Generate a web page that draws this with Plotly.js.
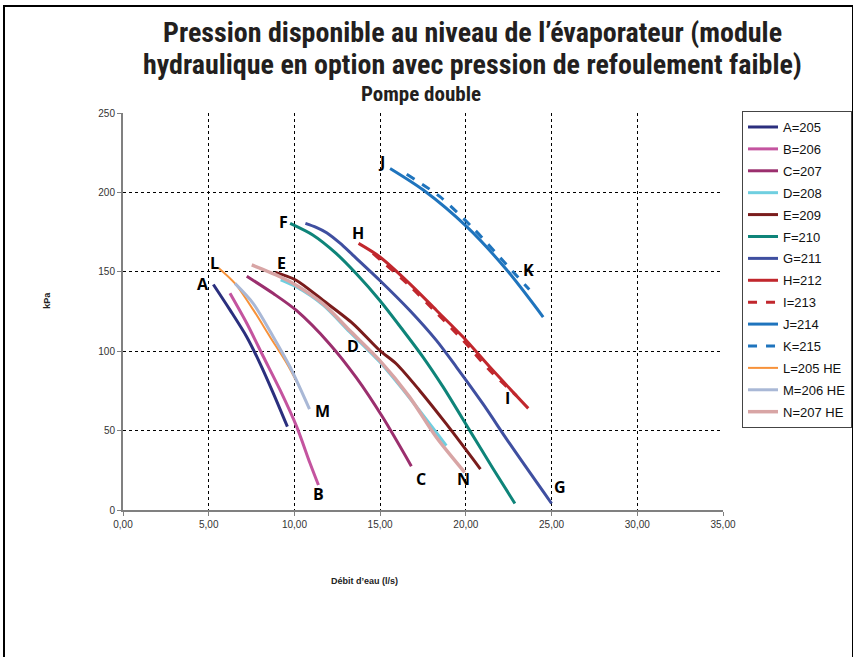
<!DOCTYPE html>
<html>
<head>
<meta charset="utf-8">
<script src="https://cdn.plot.ly/plotly-3.0.1.min.js"></script>
<style>
  html, body { margin: 0; padding: 0; background: #fff; }
  #wrap { position: relative; width: 853px; height: 657px; }
  #frame { position: absolute; left: 3px; top: 5px; width: 847px; height: 660px; border-left: 2px solid #000; border-top: 2px solid #000; border-right: 2px solid #000; pointer-events: none; }
  #chart { position: absolute; left: 0; top: 0; width: 853px; height: 657px; }
</style>
</head>
<body>
<div id="wrap">
  <div id="chart"></div>
  <div id="frame"></div>
</div>
<script>
// Series data (x = débit l/s, y = kPa)
const names = ["A=205","B=206","C=207","D=208","E=209","F=210","G=211","H=212","I=213","J=214","K=215","L=205 HE","M=206 HE","N=207 HE"];

const A_x = [5.27, 6.24, 7.22, 7.99, 8.77, 9.59];
const A_y = [142, 126, 109, 92.4, 73.5, 52.5];
const B_x = [6.24, 7.22, 8.19, 9.16, 10.13, 10.91, 11.4];
const B_y = [136.5, 117.6, 96.5, 75.6, 52.5, 29.4, 15.7];
const C_x = [7.22, 8.77, 10.1, 12.05, 13.6, 15.16, 16.82];
const C_y = [147.2, 136.3, 125.8, 104.6, 83.5, 58.2, 27.6];
const D_x = [9.2, 10.1, 11.66, 13.21, 14.97, 16.72, 18.86];
const D_y = [145, 140.6, 129.2, 112.3, 93.3, 70.5, 40.5];
const E_x = [8.89, 10.1, 11.66, 13.41, 14.97, 15.94, 17.3, 18.86, 20.85];
const E_y = [149.6, 144.7, 132.1, 117.4, 100.5, 92.1, 75.3, 54.2, 25.8];
const F_x = [9.75, 11.07, 12.43, 13.6, 14.97, 16.33, 17.5, 18.67, 20.23, 21.59, 22.86];
const F_y = [180.5, 173.2, 161.6, 148.9, 132.1, 113.2, 96.3, 77.5, 50, 26, 4.1];
const G_x = [10.64, 11.27, 11.88, 12.66, 13.41, 14.97, 16.72, 18.28, 19.45, 21.0, 22.57, 25.0];
const G_y = [180.5, 178, 174.6, 168, 160.5, 144.7, 125.8, 106.8, 90, 66.8, 41.6, 4.1];
const H_x = [13.74, 14.97, 16.72, 18.28, 19.84, 21.4, 23.64];
const H_y = [167.9, 159.5, 142.6, 125.8, 108.9, 90, 64];
const I_x = [14.58, 16.72, 18.28, 19.84, 21.4, 22.95];
const I_y = [161.6, 141.2, 124.2, 106.8, 87.8, 72];
const J_x = [15.58, 17.52, 20.05, 22.39, 24.51];
const J_y = [215.1, 201.5, 178.4, 151.1, 121.5];
const K_x = [16.55, 18.49, 20.44, 22.39, 23.7];
const K_y = [211.4, 197.3, 177.3, 154.3, 138.8];
const L_x = [5.56, 6.53, 7.6, 8.58, 9.55, 10.13];
const L_y = [152.6, 142.7, 126, 109, 92.4, 80.8];
const M_x = [6.53, 7.6, 8.77, 9.74, 10.88];
const M_y = [142.7, 130, 109, 90.2, 63.5];
const N_x = [7.51, 9.16, 10.1, 11.66, 13.21, 14.97, 16.72, 18.28, 19.93];
const N_y = [154.3, 146.9, 141.6, 130, 113.2, 94.2, 71.1, 45.8, 23.7];

// Curve labels
const labelText = ["A","B","C","D","E","F","G","H","I","J","K","L","M","N"];
const labelX = [4.67, 11.38, 17.38, 13.42, 9.22, 9.39, 25.49, 13.71, 22.4, 15.05, 23.63, 5.31, 11.61, 19.84];
const labelY = [142.3, 10.1, 19.5, 103.3, 155.5, 181.4, 14.5, 174.6, 70.5, 219.1, 151.1, 155.5, 62.3, 19.5];

const xTicks = [0, 5, 10, 15, 20, 25, 30, 35];
const yTicks = [0, 50, 100, 150, 200, 250];

const colors = ["#2B2F7E","#C4549F","#9B2F6E","#6FCFE0","#7A1C1C","#0E8479","#3F4FA0","#C1272D","#C1272D","#1F74BD","#1F74BD","#F7923A","#A9B8D6","#D8A5A5"];
const dashes = ["solid","solid","solid","solid","solid","solid","solid","solid","dash","solid","dash","solid","solid","solid"];
const widths = [3,3,3,3,3,3,3,3,3,3,3,2,3,3.5];

const xs = [A_x,B_x,C_x,D_x,E_x,F_x,G_x,H_x,I_x,J_x,K_x,L_x,M_x,N_x];
const ys = [A_y,B_y,C_y,D_y,E_y,F_y,G_y,H_y,I_y,J_y,K_y,L_y,M_y,N_y];

const traces = names.map((n, i) => ({
  type: "scatter", mode: "lines", name: n, legendgroup: "g" + i,
  x: xs[i], y: ys[i],
  line: { color: colors[i], width: widths[i], dash: dashes[i], shape: "spline", smoothing: 0.8 }
}));

const labelFont = { family: "Open Sans, Liberation Sans, sans-serif", size: 16, color: "#000" };
const annotations = labelText.map((t, i) => ({
  x: labelX[i], y: labelY[i], xref: "x", yref: "y", text: "<b>" + t + "</b>",
  showarrow: false, font: labelFont, xanchor: "center", yanchor: "middle"
}));

const titleFam = "Liberation Sans Narrow, Arial Narrow, Roboto Condensed, Liberation Sans, sans-serif";
const titleFont = { family: titleFam, size: 28, color: "#231F20" };
annotations.push(
  { xref: "paper", yref: "paper", x: 0.582, y: 1.204, xanchor: "center", yanchor: "middle", text: "<b>Pression disponible au niveau de l’évaporateur (module</b>", showarrow: false, font: titleFont },
  { xref: "paper", yref: "paper", x: 0.582, y: 1.123, xanchor: "center", yanchor: "middle", text: "<b>hydraulique en option avec pression de refoulement faible)</b>", showarrow: false, font: titleFont },
  { xref: "paper", yref: "paper", x: 0.497, y: 1.048, xanchor: "center", yanchor: "middle", text: "<b>Pompe double</b>", showarrow: false, font: { family: titleFam, size: 21, color: "#231F20" } },
  { xref: "paper", yref: "paper", x: -0.127, y: 0.529, xanchor: "center", yanchor: "middle", text: "<b>kPa</b>", textangle: -90, showarrow: false, font: { family: "Liberation Sans, Arial, sans-serif", size: 9, color: "#222" } },
  { xref: "paper", yref: "paper", x: 0.403, y: -0.179, xanchor: "center", yanchor: "middle", text: "<b>Débit d’eau (l/s)</b>", showarrow: false, font: { family: "Liberation Sans, Arial, sans-serif", size: 9, color: "#222" } }
);

const layout = {
  width: 853, height: 657,
  margin: { l: 123, r: 130, t: 113, b: 147 },
  paper_bgcolor: "#fff", plot_bgcolor: "#fff",
  separators: ", ",
  showlegend: true,
  legend: {
    xref: "container", yref: "container",
    x: 0.8699, y: 0.831, xanchor: "left", yanchor: "top",
    bordercolor: "#444", borderwidth: 1, bgcolor: "#fff",
    font: { family: "Liberation Sans, Arial, sans-serif", size: 13, color: "#111" },
    itemwidth: 30, tracegroupgap: 2
  },
  xaxis: {
    range: [0, 35], tickvals: xTicks, tickformat: ".2f",
    showgrid: true, gridcolor: "#000", griddash: "dot", gridwidth: 1,
    showline: true, linecolor: "#808080", linewidth: 2,
    ticks: "outside", ticklen: 4, tickcolor: "#808080",
    zeroline: false, fixedrange: true,
    tickfont: { family: "Liberation Sans, Arial, sans-serif", size: 10, color: "#333" }
  },
  yaxis: {
    range: [0, 250], tickvals: yTicks,
    showgrid: true, gridcolor: "#000", griddash: "dot", gridwidth: 1,
    showline: true, linecolor: "#808080", linewidth: 2,
    ticks: "outside", ticklen: 4, tickcolor: "#808080",
    zeroline: false, fixedrange: true,
    tickfont: { family: "Liberation Sans, Arial, sans-serif", size: 10, color: "#333" }
  },
  annotations: annotations
};

Plotly.newPlot("chart", traces, layout, { displayModeBar: false, staticPlot: true });
</script>
</body>
</html>
